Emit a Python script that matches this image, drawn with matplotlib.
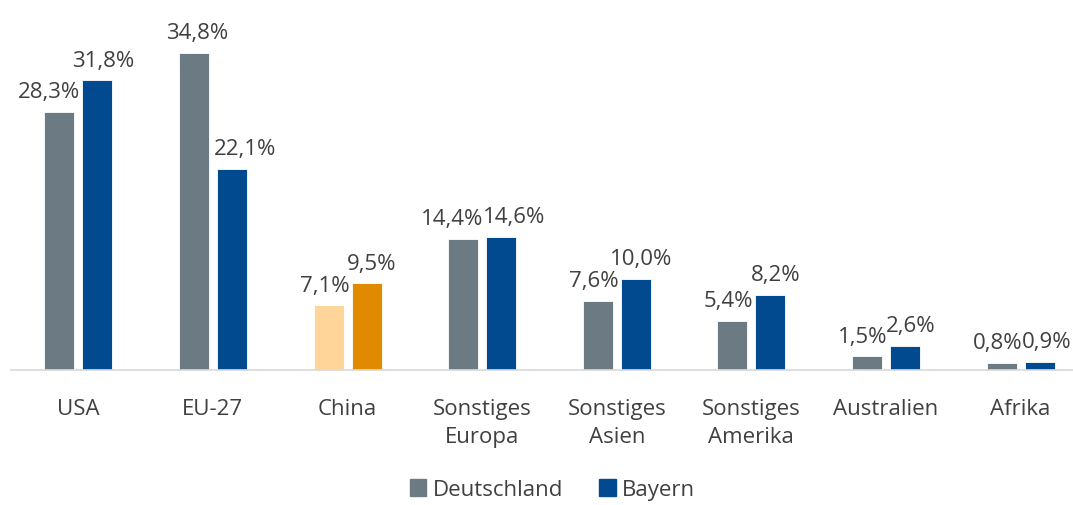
import numpy as np
import matplotlib.pyplot as plt
from matplotlib.patches import Patch

# data
categories = ["USA", "EU-27", "China", "Sonstiges\nEuropa", "Sonstiges\nAsien",
              "Sonstiges\nAmerika", "Australien", "Afrika"]
deutschland = [28.3, 34.8, 7.1, 14.4, 7.6, 5.4, 1.5, 0.8]
bayern = [31.8, 22.1, 9.5, 14.6, 10.0, 8.2, 2.6, 0.9]
series_names = ["Deutschland", "Bayern"]

gray = "#6C7A83"
blue = "#024A90"
gray_hi = "#FFD599"   # China highlight
blue_hi = "#E08A00"
text_col = "#404040"
fs = 16

plt.rcParams['font.family'] = ['Open Sans', 'DejaVu Sans']

fig = plt.figure(figsize=(10.73, 5.06), dpi=100)
ax = fig.add_axes([11 / 1073, 0.267, 1077 / 1073, 0.72])

x = np.arange(len(categories))
w = 0.223
off = 0.141
c_de = [gray_hi if c == "China" else gray for c in categories]
c_by = [blue_hi if c == "China" else blue for c in categories]
ax.bar(x - off, deutschland, w, color=c_de, edgecolor="white", linewidth=0.6)
ax.bar(x + off, bayern, w, color=c_by, edgecolor="white", linewidth=0.6)

def fmt(v):
    return f"{v:.1f}%".replace(".", ",")

# labels: lower bar's label is pushed outward, close pairs both pushed
dy = 7
for i in range(len(categories)):
    d, b = deutschland[i], bayern[i]
    close = abs(d - b) < 1
    if close or d < b:
        ax.annotate(fmt(d), (x[i] - off + w / 2, d), xytext=(4, dy),
                    textcoords="offset points", ha="right", va="bottom",
                    fontsize=fs, color=text_col)
    else:
        ax.annotate(fmt(d), (x[i] - off, d), xytext=(2, dy),
                    textcoords="offset points", ha="center", va="bottom",
                    fontsize=fs, color=text_col)
    if close or b < d:
        ax.annotate(fmt(b), (x[i] + off - w / 2, b), xytext=(-2, dy),
                    textcoords="offset points", ha="left", va="bottom",
                    fontsize=fs, color=text_col)
    else:
        ax.annotate(fmt(b), (x[i] + off, b), xytext=(4, dy),
                    textcoords="offset points", ha="center", va="bottom",
                    fontsize=fs, color=text_col)

ax.set_xlim(-0.5, len(categories) - 0.5)
ax.set_ylim(0, 40)
ax.set_yticks([])
ax.set_xticks(x)
ax.set_xticklabels(categories, fontsize=fs, color=text_col, linespacing=1.45)
ax.tick_params(axis="x", length=0, pad=20)
for s in ["top", "right", "left"]:
    ax.spines[s].set_visible(False)
ax.spines["bottom"].set_color("#D9D9D9")
ax.spines["bottom"].set_linewidth(1.2)

handles = [Patch(color=gray), Patch(color=blue)]
fig.legend(handles, series_names, loc="lower center", bbox_to_anchor=(0.515, -0.03),
           ncol=2, frameon=False, fontsize=fs, handlelength=0.75, handleheight=0.75,
           handletextpad=0.3, columnspacing=1.6, labelcolor=text_col)

fig.savefig("out.png", dpi=100)
